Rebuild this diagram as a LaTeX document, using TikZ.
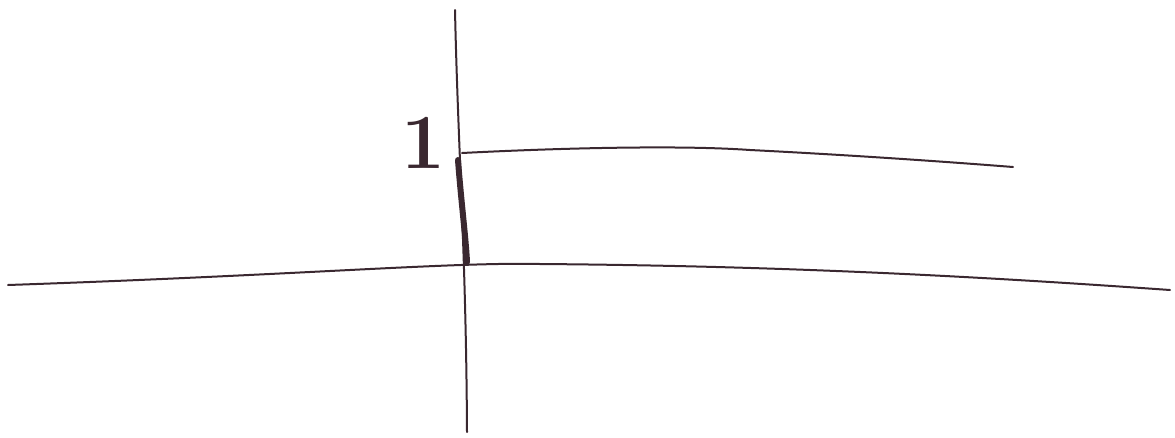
\documentclass[tikz,border=0pt]{standalone}
\begin{document}
\begin{tikzpicture}[x=1pt,y=-1pt,
  ink/.style={draw=inkc,line width=2pt,line cap=round},
  thickink/.style={draw=inkc,line width=6pt,line cap=round}]
\definecolor{inkc}{HTML}{3A2830}
\useasboundingbox (0,0) rectangle (1175,437);
% vertical axis
\coordinate (vtop) at (455,10);
\coordinate (vbot) at (467,432);
\draw[ink] (vtop) .. controls (458,150) and (466,250) .. (vbot);
% horizontal axis
\coordinate (hl) at (8,285);
\coordinate (hr) at (1170,290);
\draw[ink] (hl) .. controls (300,275) and (450,262) .. (540,264) .. controls (800,266) and (1000,278) .. (hr);
% upper line at height 1
\coordinate (ul) at (462,153);
\coordinate (ur) at (1013,167);
\draw[ink] (ul) .. controls (560,148) and (680,145) .. (750,150) .. controls (850,155) and (950,162) .. (ur);
% thick segment on the axis
\coordinate (s1) at (458,160);
\coordinate (s2) at (467,262);
\draw[thickink] (s1) .. controls (461,200) and (466,240) .. (s2);
% label
\node[text=inkc,font=\fontsize{78}{80}\selectfont\bfseries] (one) at (423,143) {1};
\end{tikzpicture}
\end{document}
